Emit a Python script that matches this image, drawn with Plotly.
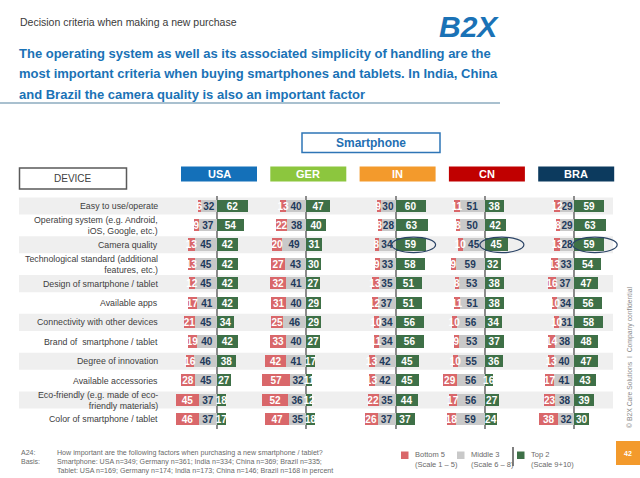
import plotly.graph_objects as go

criteria = [
    "Easy to use/operate",
    "Operating system (e.g. Android,<br>iOS, Google, etc.)",
    "Camera quality",
    "Technological standard (additional<br>features, etc.)",
    "Design of smartphone / tablet",
    "Available apps",
    "Connectivity with other devices",
    "Brand of  smartphone / tablet",
    "Degree of innovation",
    "Available accessories",
    "Eco-friendly (e.g. made of eco-<br>friendly materials)",
    "Color of smartphone / tablet",
]
countries = ["USA", "GER", "IN", "CN", "BRA"]
country_colors = ["#1470b9", "#8cc63e", "#f39a2c", "#c00000", "#0c3a5e"]

usa_bottom = [6, 9, 13, 13, 12, 17, 21, 19, 16, 28, 45, 46]
usa_middle = [32, 37, 45, 45, 45, 41, 45, 40, 46, 45, 37, 37]
usa_top = [62, 54, 42, 42, 42, 42, 34, 42, 38, 27, 18, 17]

ger_bottom = [13, 22, 20, 27, 32, 31, 25, 33, 42, 57, 52, 47]
ger_middle = [40, 38, 49, 43, 41, 40, 46, 40, 41, 32, 36, 35]
ger_top = [47, 40, 31, 30, 27, 29, 29, 27, 17, 11, 12, 18]

in_bottom = [9, 8, 8, 9, 13, 12, 10, 11, 13, 13, 22, 26]
in_middle = [30, 28, 34, 33, 35, 37, 34, 34, 42, 42, 35, 37]
in_top = [60, 63, 59, 58, 51, 51, 56, 56, 45, 45, 44, 37]

cn_bottom = [11, 8, 10, 9, 8, 11, 10, 9, 10, 29, 17, 18]
cn_middle = [51, 50, 45, 59, 53, 51, 56, 53, 55, 56, 56, 59]
cn_top = [38, 42, 45, 32, 38, 38, 34, 37, 36, 16, 27, 24]

bra_bottom = [12, 8, 13, 13, 16, 10, 10, 14, 13, 17, 23, 38]
bra_middle = [29, 29, 28, 33, 37, 34, 31, 38, 40, 41, 38, 32]
bra_top = [59, 63, 59, 54, 47, 56, 58, 48, 47, 43, 39, 30]

bottoms = [usa_bottom, ger_bottom, in_bottom, cn_bottom, bra_bottom]
middles = [usa_middle, ger_middle, in_middle, cn_middle, bra_middle]
tops = [usa_top, ger_top, in_top, cn_top, bra_top]

legend_labels = ["Bottom 5<br>(Scale 1 – 5)", "Middle 3<br>(Scale 6 – 8)", "Top 2<br>(Scale 9+10)"]
seg_colors = ["#d9676a", "#c9c9c9", "#3e7047"]

W, H = 640, 478
REG = "Liberation Sans, Arial, sans-serif"


def px(x):
    return x / W


def py(y):
    return 1 - y / H


ypos = list(range(len(criteria)))
fig = go.Figure()
layout_axes = {}
scale = 0.5  # px per percent
zeros = [217 + 89.3 * i for i in range(5)]
for i, c in enumerate(countries):
    ax = "x" if i == 0 else f"x{i+1}"
    lname = "xaxis" if i == 0 else f"xaxis{i+1}"
    z = zeros[i]
    lo, hi = -90, 88.6
    layout_axes[lname] = dict(
        domain=[px(z + lo * scale), px(z + hi * scale)], range=[lo, hi], anchor="y",
        showticklabels=False, showgrid=False, zeroline=True, zerolinecolor="#8c8c8c",
        zerolinewidth=1.5, fixedrange=True,
    )
    fig.add_trace(go.Bar(
        y=ypos, x=[-v for v in middles[i]], orientation="h", xaxis=ax, yaxis="y",
        marker=dict(color=seg_colors[1], line=dict(width=0)), width=0.62,
        text=middles[i], textposition="inside", insidetextanchor="middle",
        textfont=dict(color="#1e3a5c", size=10, family=REG, weight="bold"),
        textangle=0, hoverinfo="skip", showlegend=False))
    fig.add_trace(go.Bar(
        y=ypos, x=[-v for v in bottoms[i]], orientation="h", xaxis=ax, yaxis="y",
        marker=dict(color=seg_colors[0], line=dict(width=0)), width=0.62,
        text=bottoms[i], textposition="inside", insidetextanchor="middle",
        textfont=dict(color="white", size=10, family=REG, weight="bold"),
        textangle=0, hoverinfo="skip", showlegend=False))
    fig.add_trace(go.Bar(
        y=ypos, x=tops[i], orientation="h", xaxis=ax, yaxis="y",
        marker=dict(color=seg_colors[2], line=dict(width=0)), width=0.62,
        text=tops[i], textposition="inside", insidetextanchor="middle",
        textfont=dict(color="white", size=10, family=REG, weight="bold"),
        textangle=0, hoverinfo="skip", showlegend=False))

shapes = []
annotations = []


def ann(x, y, text, size, color, xanchor="center", yanchor="middle", align="center", **kw):
    d = dict(xref="paper", yref="paper", x=px(x), y=py(y), text=text, showarrow=False,
             xanchor=xanchor, yanchor=yanchor, align=align,
             font=dict(family=REG, size=size, color=color))
    d.update(kw)
    annotations.append(d)


# row shading
for i in range(0, len(criteria), 2):
    shapes.append(dict(type="rect", xref="paper", yref="y", x0=px(19), x1=px(613),
                       y0=i - 0.44, y1=i + 0.44, fillcolor="#efefef",
                       line=dict(width=0), layer="below"))

# category labels
for i, lab in enumerate(criteria):
    annotations.append(dict(xref="paper", yref="y", x=px(160), y=i, text=lab,
                            xanchor="right", yanchor="middle", align="right",
                            showarrow=False,
                            font=dict(family=REG, size=8.8, color="#404040")))

# country header boxes
for i, c in enumerate(countries):
    z = zeros[i]
    shapes.append(dict(type="rect", xref="paper", yref="paper", x0=px(z - 36), x1=px(z + 40),
                       y0=py(181.5), y1=py(166.5), fillcolor=country_colors[i],
                       line=dict(width=0)))
    ann(z + 2, 174, f"<b>{c}</b>", 11, "white")

# ellipses around camera quality (IN, CN, BRA)
for i, (a, b) in zip([2, 3, 4], [(-8, 80), (-10, 78), (-3, 86)]):
    ax = f"x{i+1}"
    shapes.append(dict(type="circle", xref=ax, yref="y", x0=a, x1=b, y0=2 - 0.4, y1=2 + 0.4,
                       line=dict(color="#2b4466", width=1.2)))

# DEVICE box
shapes.append(dict(type="rect", xref="paper", yref="paper", x0=px(19.5), x1=px(126.5),
                   y0=py(189), y1=py(168), line=dict(color="#5a5a5a", width=1.5)))
ann(73, 178.5, "DEVICE", 10, "#404040")

# Smartphone box
shapes.append(dict(type="rect", xref="paper", yref="paper", x0=px(302), x1=px(440),
                   y0=py(152.5), y1=py(133), line=dict(color="#2e75b6", width=1.5)))
ann(371, 143, "<b>Smartphone</b>", 12, "#1f6fb2")

# titles
ann(18, 22, "Decision criteria when making a new purchase", 10.5, "#3a3a3a", xanchor="left")
headline = ["The operating system as well as its associated simplicity of handling are the",
            "most important criteria when buying smartphones and tablets. In India, China",
            "and Brazil the camera quality is also an important factor"]
for k, line in enumerate(headline):
    ann(17, 53 + 20.5 * k, f"<b>{line}</b>", 13, "#1a72b6", xanchor="left")
shapes.append(dict(type="line", xref="paper", yref="paper", x0=0, x1=px(500), y0=py(103), y1=py(103),
                   line=dict(color="#a9c0cf", width=2)))
ann(469, 26.5, "<b><i>B2X</i></b>", 30, "#1a72b6")

# footnote
ann(19, 446.5, "A24:<br>Basis:", 7, "#6a6a6a", xanchor="left", yanchor="top", align="left")
foot = ("How important are the following factors when purchasing a new smartphone / tablet?<br>"
        "Smartphone: USA n=349; Germany n=361; India n=334; China n=369; Brazil n=335;<br>"
        "Tablet: USA n=169; Germany n=174; India n=173; China n=146; Brazil n=168 in percent")
ann(55, 446.5, foot, 7.1, "#6a6a6a", xanchor="left", yanchor="top", align="left")

# legend
leg_x = [401, 457, 517]
for k in range(3):
    shapes.append(dict(type="rect", xref="paper", yref="paper", x0=px(leg_x[k]), x1=px(leg_x[k] + 7.5),
                       y0=py(459), y1=py(451.5), fillcolor=seg_colors[k], line=dict(width=0)))
    ann(leg_x[k] + 12, 459, legend_labels[k], 7.5, "#6a6a6a", xanchor="left", align="left")
shapes.append(dict(type="line", xref="paper", yref="paper", x0=px(513), x1=px(513), y0=py(447), y1=py(466),
                   line=dict(color="#555555", width=1.5)))

# page box and side text
shapes.append(dict(type="rect", xref="paper", yref="paper", x0=px(616), x1=px(640), y0=py(465), y1=py(441),
                   fillcolor="#f39a2c", line=dict(width=0)))
ann(628, 453, "<b>42</b>", 7, "white")
ann(630, 357, "© B2X Care Solutions  I  Company confidential", 6.8, "#8a8a8a", textangle=-90)

fig.update_layout(
    width=W, height=H, margin=dict(l=0, r=0, t=0, b=0),
    paper_bgcolor="white", plot_bgcolor="rgba(0,0,0,0)",
    barmode="relative", bargap=0, showlegend=False,
    uniformtext=dict(minsize=10, mode="show"),
    yaxis=dict(domain=[py(429.1), py(196.3)], range=[11.5, -0.5], visible=False,
               anchor="x", fixedrange=True),
    shapes=shapes, annotations=annotations,
    **layout_axes,
)
fig.write_html("out.html", config={"displayModeBar": False},
               post_script="document.body.style.margin='0';document.body.style.overflow='hidden';")
